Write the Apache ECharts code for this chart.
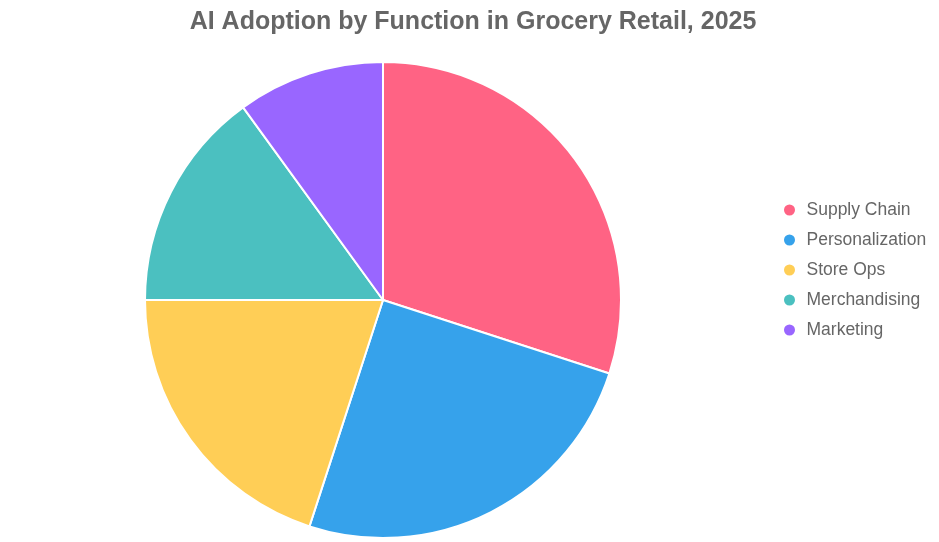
<!DOCTYPE html>
<html>
<head>
<meta charset="utf-8">
<script src="https://cdn.jsdelivr.net/npm/echarts@6/dist/echarts.min.js"></script>
<style>
html,body{margin:0;padding:0;background:#fff;}
#chart{width:939px;height:542px;}
</style>
</head>
<body>
<div id="chart"></div>
<script>
var categories = ["Supply Chain", "Personalization", "Store Ops", "Merchandising", "Marketing"];
var values = [30, 25, 20, 15, 10];
var colors = ["#FF6384", "#36A2EB", "#FFCE56", "#4BC0C0", "#9966FF"];

var chart = echarts.init(document.getElementById('chart'));
chart.setOption({
  animation: false,
  color: colors,
  title: {
    text: "AI Adoption by Function in Grocery Retail, 2025",
    left: 468,
    textAlign: 'center',
    top: 2,
    textStyle: {
      fontFamily: "Liberation Sans, Arial, sans-serif",
      fontSize: 25,
      lineHeight: 30,
      fontWeight: 'bold',
      color: '#666'
    }
  },
  legend: {
    orient: 'vertical',
    left: 777,
    top: 196,
    icon: 'circle',
    itemWidth: 24,
    itemHeight: 13,
    itemGap: 12,
    data: categories,
    textStyle: {
      fontFamily: "Liberation Sans, Arial, sans-serif",
      fontSize: 17.5,
      lineHeight: 18,
      color: '#666'
    }
  },
  series: [{
    type: 'pie',
    center: [383, 300],
    radius: 238,
    startAngle: 90,
    clockwise: true,
    label: { show: false },
    labelLine: { show: false },
    emphasis: { disabled: true },
    itemStyle: { borderColor: '#fff', borderWidth: 2 },
    data: categories.map(function (c, i) { return { name: c, value: values[i] }; })
  }]
});
</script>
</body>
</html>
